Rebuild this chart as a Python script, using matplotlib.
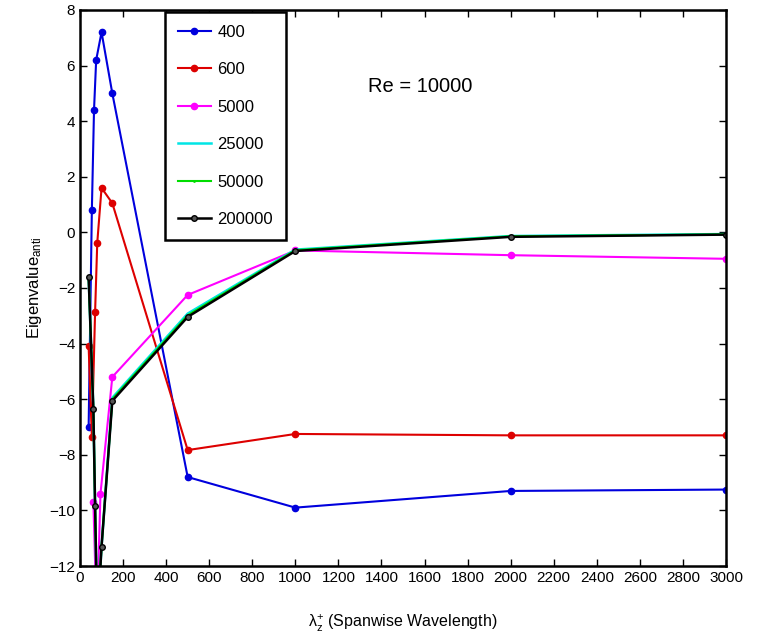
import matplotlib
matplotlib.use("Agg")
import matplotlib.pyplot as plt
import numpy as np

# data (x = lambda_z^+, y = eigenvalue)
x_400 = [40, 55, 65, 75, 100, 150, 500, 1000, 2000, 3000]
y_400 = [-7.0, 0.8, 4.4, 6.2, 7.2, 5.0, -8.8, -9.9, -9.3, -9.25]

x_600 = [40, 55, 70, 80, 100, 150, 500, 1000, 2000, 3000]
y_600 = [-4.1, -7.35, -2.87, -0.38, 1.6, 1.05, -7.83, -7.25, -7.3, -7.3]

x_5000 = [62, 78, 95, 150, 500, 1000, 2000, 3000]
y_5000 = [-9.7, -14.0, -9.4, -5.2, -2.25, -0.65, -0.82, -0.95]

x_25000 = [40, 62, 70, 80, 100, 150, 500, 1000, 2000, 3000]
y_25000 = [-1.6, -6.36, -9.84, -14.0, -11.3, -5.95, -2.92, -0.62, -0.13, -0.06]

x_50000 = [40, 62, 70, 80, 100, 150, 500, 1000, 2000, 3000]
y_50000 = [-1.6, -6.36, -9.84, -14.0, -11.3, -6.0, -2.98, -0.64, -0.14, -0.07]

x_200000 = [40, 62, 70, 80, 100, 150, 500, 1000, 2000, 3000]
y_200000 = [-1.6, -6.36, -9.84, -14.0, -11.3, -6.06, -3.04, -0.67, -0.16, -0.08]

labels = ['400', '600', '5000', '25000', '50000', '200000']

plt.rcParams['font.family'] = ['Liberation Sans', 'DejaVu Sans']
plt.rcParams['mathtext.fontset'] = 'custom'
plt.rcParams['mathtext.rm'] = 'Liberation Sans'
plt.rcParams['mathtext.it'] = 'Liberation Sans'

fig = plt.figure(figsize=(7.65, 6.44), dpi=100)
ax = fig.add_axes([0.1046, 0.1211, 0.8444, 0.8634])

ax.plot(x_400, y_400, '-o', color='#0000dd', lw=1.5, ms=4.5, label=labels[0])
ax.plot(x_600, y_600, '-o', color='#dd0000', lw=1.5, ms=4.5, label=labels[1])
ax.plot(x_5000, y_5000, '-o', color='#ff00ff', lw=1.5, ms=4.5, label=labels[2])
ax.plot(x_25000, y_25000, '-', color='#00e5e5', lw=1.8, label=labels[3])
ax.plot(x_50000, y_50000, '-', marker='.', color='#00dd00', lw=1.5, ms=2, label=labels[4])
ax.plot(x_200000, y_200000, '-o', color='black', lw=1.8, ms=4,
        mfc='#555555', mec='black', label=labels[5])

ax.set_xlim(0, 3000)
ax.set_ylim(-12, 8)
ax.set_xticks(np.arange(0, 3001, 200))
ax.set_yticks(np.arange(-12, 9, 2))
ax.tick_params(direction='in', top=True, right=True, length=5, width=1,
               labelsize=11)
for s in ax.spines.values():
    s.set_linewidth(1.8)

ax.text(1580, 5.23, 'Re = 10000', fontsize=14.5, ha='center', va='center')

ax.set_xlabel('λ$_{z}^{+}$ (Spanwise Wavelength)', fontsize=11.5, labelpad=20)
ax.set_ylabel('Eigenvalue$_{anti}$', fontsize=12, labelpad=4)

leg = ax.legend(loc='upper left', bbox_to_anchor=(0.1316, 0.996),
                borderaxespad=0, fontsize=12,
                handlelength=2.0, handletextpad=0.4, labelspacing=1.35,
                borderpad=0.75, fancybox=False, framealpha=1, edgecolor='black')
leg.get_frame().set_linewidth(1.8)

fig.savefig('out.png', dpi=100)
